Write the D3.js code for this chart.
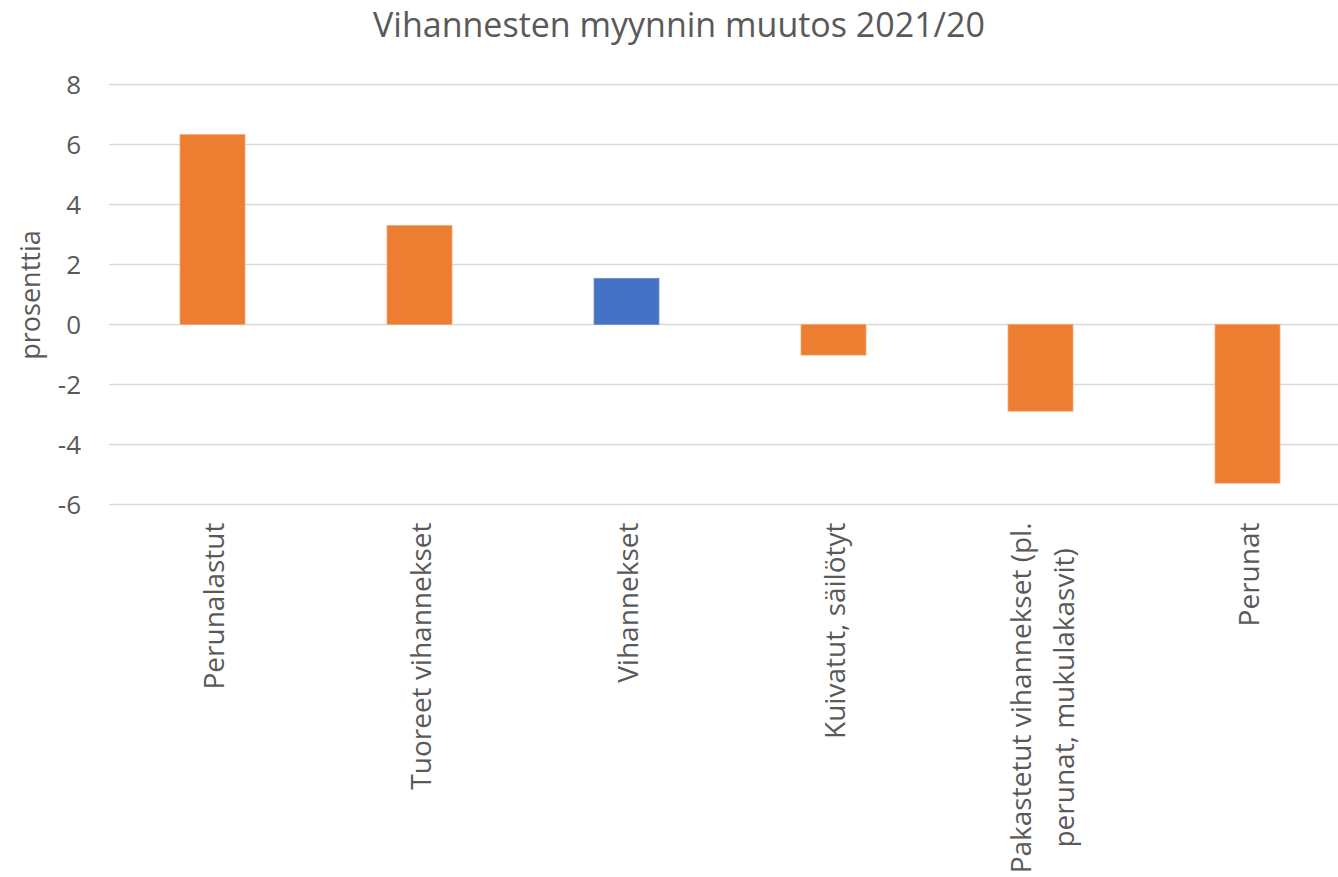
<!DOCTYPE html>
<html>
<head>
<meta charset="utf-8">
<script src="https://cdn.jsdelivr.net/npm/d3@7"></script>
<style>
  html, body { margin: 0; padding: 0; background: #fff; }
  svg { display: block; }
  text { font-family: "Open Sans", "Noto Sans", sans-serif; fill: #595959; }
</style>
</head>
<body>
<svg id="chart" width="1338" height="877"></svg>
<script>
// ---- data ----
const categories = [
  "Perunalastut",
  "Tuoreet vihannekset",
  "Vihannekset",
  "Kuivatut, säilötyt",
  "Pakastetut vihannekset (pl. perunat, mukulakasvit)",
  "Perunat"
];
const labelLines = [
  ["Perunalastut"],
  ["Tuoreet vihannekset"],
  ["Vihannekset"],
  ["Kuivatut, säilötyt"],
  ["Pakastetut vihannekset (pl.", "perunat, mukulakasvit)"],
  ["Perunat"]
];
const values = [6.33, 3.3, 1.54, -1.02, -2.89, -5.29];
const isTotal = [false, false, true, false, false, false];
const yTicks = [-6, -4, -2, 0, 2, 4, 6, 8];
const title = "Vihannesten myynnin muutos 2021/20";
const yTitle = "prosenttia";

// ---- layout ----
const svg = d3.select("#chart");
const plotLeft = 109, plotRight = 1351, plotTop = 84.5, plotBottom = 504.5;

const x = d3.scaleBand().domain(categories).range([plotLeft, plotRight]).paddingInner(0.686).paddingOuter(0.343);
const y = d3.scaleLinear().domain([-6, 8]).range([plotBottom, plotTop]);

// gridlines
svg.append("g").selectAll("line").data(yTicks).join("line")
  .attr("x1", plotLeft).attr("x2", 1338)
  .attr("y1", d => y(d)).attr("y2", d => y(d))
  .attr("stroke", "#d9d9d9").attr("stroke-width", 1.5);

// y axis labels
const yAxis = d3.axisLeft(y).tickValues(yTicks).tickSize(0).tickPadding(0).tickFormat(d => String(d));
const gy = svg.append("g").attr("transform", `translate(81,0)`).call(yAxis);
gy.select(".domain").remove();
gy.selectAll("text").style("font-family", '"Open Sans", sans-serif').style("font-size", "26px").attr("fill", "#595959").attr("dy", "0.36em");

// bars
svg.append("g").selectAll("rect").data(values).join("rect")
  .attr("x", (d, i) => x(categories[i]))
  .attr("width", x.bandwidth())
  .attr("y", d => y(Math.max(0, d)))
  .attr("height", d => Math.abs(y(d) - y(0)))
  .attr("fill", (d, i) => isTotal[i] ? "#4472C4" : "#ED7D31")
  .attr("stroke", (d, i) => isTotal[i] ? "#6f8fd0" : "#f4a877")
  .attr("stroke-width", 0.75);

// x category labels (rotated)
const xl = svg.append("g");
categories.forEach((c, i) => {
  const lines = labelLines[i];
  const cx = x(c) + x.bandwidth() / 2 + 2;
  const lh = 43;
  const t = xl.append("text")
    .attr("transform", `translate(${cx},${plotBottom + 18}) rotate(-90)`)
    .attr("text-anchor", "end")
    .style("font-size", "28px");
  const n = lines.length;
  lines.forEach((ln, k) => {
    t.append("tspan").attr("x", 0).attr("y", (k - (n - 1) / 2) * lh).attr("dy", "0.35em").text(ln);
  });
  if (n > 1) {
    const widths = [];
    t.selectAll("tspan").each(function() { widths.push(this.getComputedTextLength()); });
    const maxW = d3.max(widths);
    t.selectAll("tspan").attr("x", (d, k) => -(maxW - widths[k]) / 2);
  }
});

// y title
svg.append("text")
  .attr("transform", `translate(31,295) rotate(-90)`)
  .attr("text-anchor", "middle").attr("dy", "0.35em")
  .style("font-size", "27px")
  .text(yTitle);

// chart title
svg.append("text")
  .attr("x", 679).attr("y", 37).attr("text-anchor", "middle")
  .style("font-size", "34px")
  .text(title);
</script>
</body>
</html>
